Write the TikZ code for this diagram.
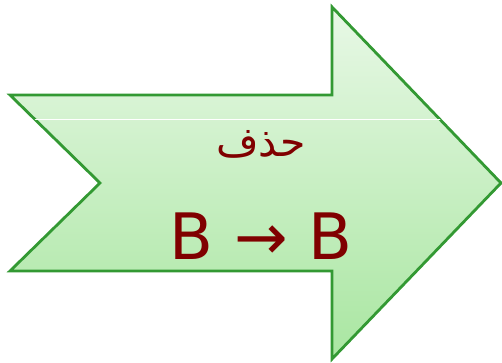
\documentclass[tikz,border=0pt]{standalone}
\usepackage{fontspec}
\setmainfont{DejaVu Sans}
\newfontfamily\arabicfont[Script=Arabic]{DejaVu Sans}
\TeXXeTstate=1
\definecolor{cgreen}{HTML}{339933}
\definecolor{ctop}{HTML}{E8F8E6}
\definecolor{cbottom}{HTML}{A9E6A1}
\definecolor{cred}{HTML}{800000}
\tikzset{
  every picture/.style={line width=2.8pt},
  bigarrow/.style={draw=cgreen, top color=ctop, bottom color=cbottom, line join=miter},
  redtext/.style={text=cred, inner sep=0pt},
}

\begin{document}
\begin{tikzpicture}[x=1pt, y=-1pt]
  \useasboundingbox (0,0) rectangle (502,363);
  \path[bigarrow] (10,95) -- (332,95) -- (332,7) -- (501,183) -- (332,359)
    -- (332,271) -- (10,271) -- (100,183) -- cycle;
  \begin{scope}
    \clip (10,95) -- (332,95) -- (332,7) -- (501,183) -- (332,359)
      -- (332,271) -- (10,271) -- (100,183) -- cycle;
    \draw[white, line width=0.6pt] (0,119) -- (502,119);
  \end{scope}
  \node[redtext, font=\arabicfont\fontsize{41}{48}\selectfont] (word) at (261,144) {\beginR حذف\endR};
  \node[redtext, font=\fontsize{64}{76}\selectfont, anchor=base] (rule) at (261,259) {B → B};
\end{tikzpicture}
\end{document}
